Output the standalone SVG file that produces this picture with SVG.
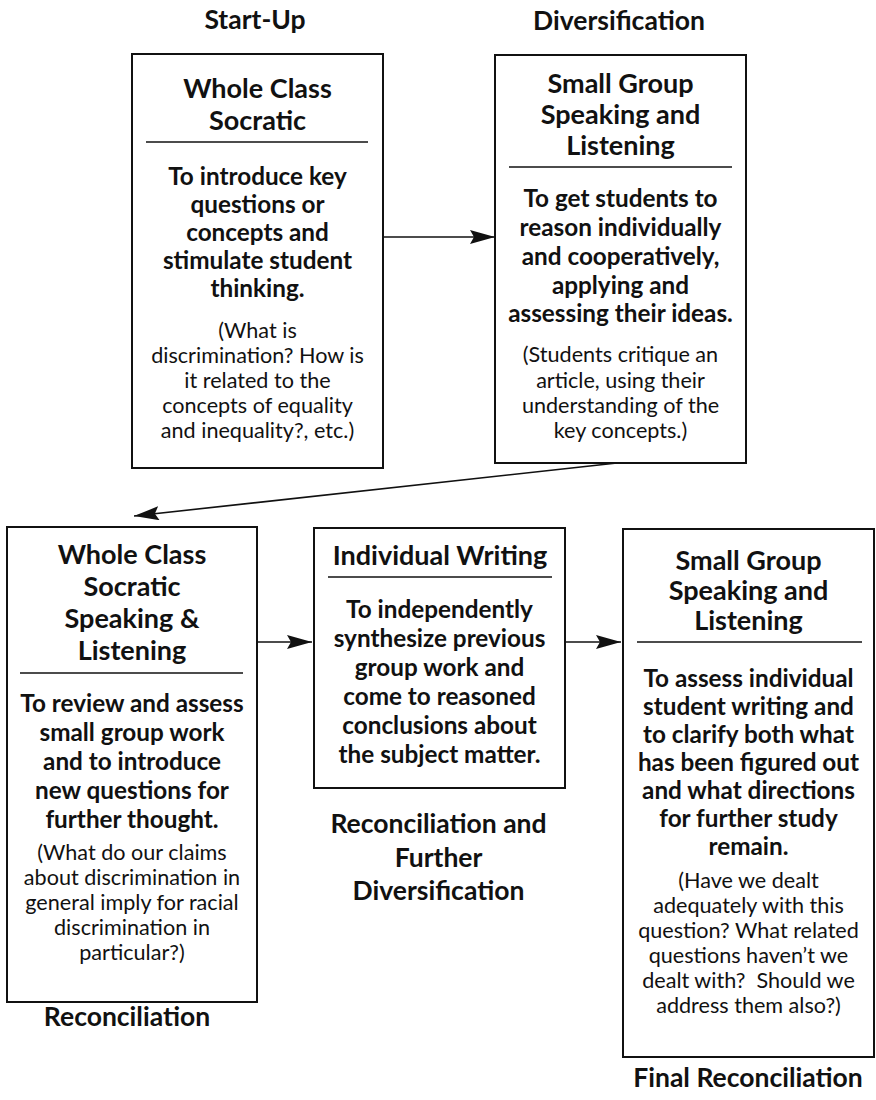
<svg xmlns="http://www.w3.org/2000/svg" width="876" height="1100" viewBox="0 0 876 1100">
<style>
text{font-family:Lato,"Noto Sans","Liberation Sans",sans-serif;fill:#111;text-anchor:middle}
.h{font-size:26.5px;font-weight:bold}
.t{font-size:27px;font-weight:bold}
.b{font-size:24.3px;font-weight:bold}
.s{font-size:21.6px}
.box{fill:#fff;stroke:#111;stroke-width:2}
.div{stroke:#111;stroke-width:1.6}
.con{stroke:#111;stroke-width:1.6;fill:none;marker-end:url(#ah)}
</style>
<defs>
<marker id="ah" markerWidth="25" markerHeight="14" refX="25" refY="7" orient="auto" markerUnits="userSpaceOnUse">
<path d="M0,0 L25,7 L0,14 L4,7 Z" fill="#111"/>
</marker>
</defs>
<rect width="876" height="1100" fill="#fff"/>

<g id="labels">
<text class="h" x="255" y="29">Start-Up</text>
<text class="h" x="619" y="30">Diversification</text>
<text class="h" x="127" y="1026">Reconciliation</text>
<text class="h" x="438.5" y="833">Reconciliation and</text>
<text class="h" x="438.5" y="867">Further</text>
<text class="h" x="438.5" y="900">Diversification</text>
<text class="h" x="748" y="1087">Final Reconciliation</text>
</g>

<g id="box1">
<rect class="box" x="132" y="54" width="251" height="414"/>
<text class="t" x="257.5" y="98">Whole Class</text>
<text class="t" x="257.5" y="130">Socratic</text>
<line class="div" x1="146" y1="142" x2="368" y2="142"/>
<text class="b" x="257.5" y="185">To introduce key</text>
<text class="b" x="257.5" y="213">questions or</text>
<text class="b" x="257.5" y="241">concepts and</text>
<text class="b" x="257.5" y="269">stimulate student</text>
<text class="b" x="257.5" y="297">thinking.</text>
<text class="s" x="257.5" y="338">(What is</text>
<text class="s" x="257.5" y="363">discrimination? How is</text>
<text class="s" x="257.5" y="388">it related to the</text>
<text class="s" x="257.5" y="413">concepts of equality</text>
<text class="s" x="257.5" y="438">and inequality?, etc.)</text>
</g>

<g id="box2">
<rect class="box" x="495" y="55" width="251" height="408"/>
<text class="t" x="620.5" y="93">Small Group</text>
<text class="t" x="620.5" y="124">Speaking and</text>
<text class="t" x="620.5" y="155">Listening</text>
<line class="div" x1="509" y1="167" x2="732" y2="167"/>
<text class="b" x="620.5" y="207">To get students to</text>
<text class="b" x="620.5" y="236">reason individually</text>
<text class="b" x="620.5" y="265">and cooperatively,</text>
<text class="b" x="620.5" y="294">applying and</text>
<text class="b" x="620.5" y="322">assessing their ideas.</text>
<text class="s" x="620.5" y="362">(Students critique an</text>
<text class="s" x="620.5" y="388">article, using their</text>
<text class="s" x="620.5" y="413">understanding of the</text>
<text class="s" x="620.5" y="438">key concepts.)</text>
</g>

<g id="box3">
<rect class="box" x="7" y="527" width="250" height="475"/>
<text class="t" x="132" y="564">Whole Class</text>
<text class="t" x="132" y="596">Socratic</text>
<text class="t" x="132" y="628">Speaking &amp;</text>
<text class="t" x="132" y="660">Listening</text>
<line class="div" x1="20" y1="673" x2="243" y2="673"/>
<text class="b" x="132" y="712">To review and assess</text>
<text class="b" x="132" y="741">small group work</text>
<text class="b" x="132" y="770">and to introduce</text>
<text class="b" x="132" y="799">new questions for</text>
<text class="b" x="132" y="828">further thought.</text>
<text class="s" x="132" y="860">(What do our claims</text>
<text class="s" x="132" y="885">about discrimination in</text>
<text class="s" x="132" y="910">general imply for racial</text>
<text class="s" x="132" y="935">discrimination in</text>
<text class="s" x="132" y="960">particular?)</text>
</g>

<g id="box4">
<rect class="box" x="314" y="528" width="251" height="260"/>
<text class="t" x="440" y="565">Individual Writing</text>
<line class="div" x1="328" y1="577" x2="552" y2="577"/>
<text class="b" x="439.5" y="618">To independently</text>
<text class="b" x="439.5" y="647">synthesize previous</text>
<text class="b" x="439.5" y="676">group work and</text>
<text class="b" x="439.5" y="705">come to reasoned</text>
<text class="b" x="439.5" y="734">conclusions about</text>
<text class="b" x="439.5" y="763">the subject matter.</text>
</g>

<g id="box5">
<rect class="box" x="623" y="529" width="251" height="528"/>
<text class="t" x="748.5" y="570">Small Group</text>
<text class="t" x="748.5" y="600">Speaking and</text>
<text class="t" x="748.5" y="630">Listening</text>
<line class="div" x1="637" y1="642" x2="862" y2="642"/>
<text class="b" x="748.5" y="687">To assess individual</text>
<text class="b" x="748.5" y="715">student writing and</text>
<text class="b" x="748.5" y="743">to clarify both what</text>
<text class="b" x="748.5" y="771">has been figured out</text>
<text class="b" x="748.5" y="799">and what directions</text>
<text class="b" x="748.5" y="827">for further study</text>
<text class="b" x="748.5" y="855">remain.</text>
<text class="s" x="748.5" y="888">(Have we dealt</text>
<text class="s" x="748.5" y="913">adequately with this</text>
<text class="s" x="748.5" y="938">question? What related</text>
<text class="s" x="748.5" y="963">questions haven’t we</text>
<text class="s" x="748.5" y="988" xml:space="preserve">dealt with?  Should we</text>
<text class="s" x="748.5" y="1013">address them also?)</text>
</g>

<g id="connectors">
<line class="con" x1="383" y1="237" x2="495" y2="237"/>
<line class="con" x1="617" y1="463" x2="134" y2="516"/>
<line class="con" x1="257" y1="642" x2="312" y2="642"/>
<line class="con" x1="565" y1="642" x2="621" y2="642"/>
</g>
</svg>
